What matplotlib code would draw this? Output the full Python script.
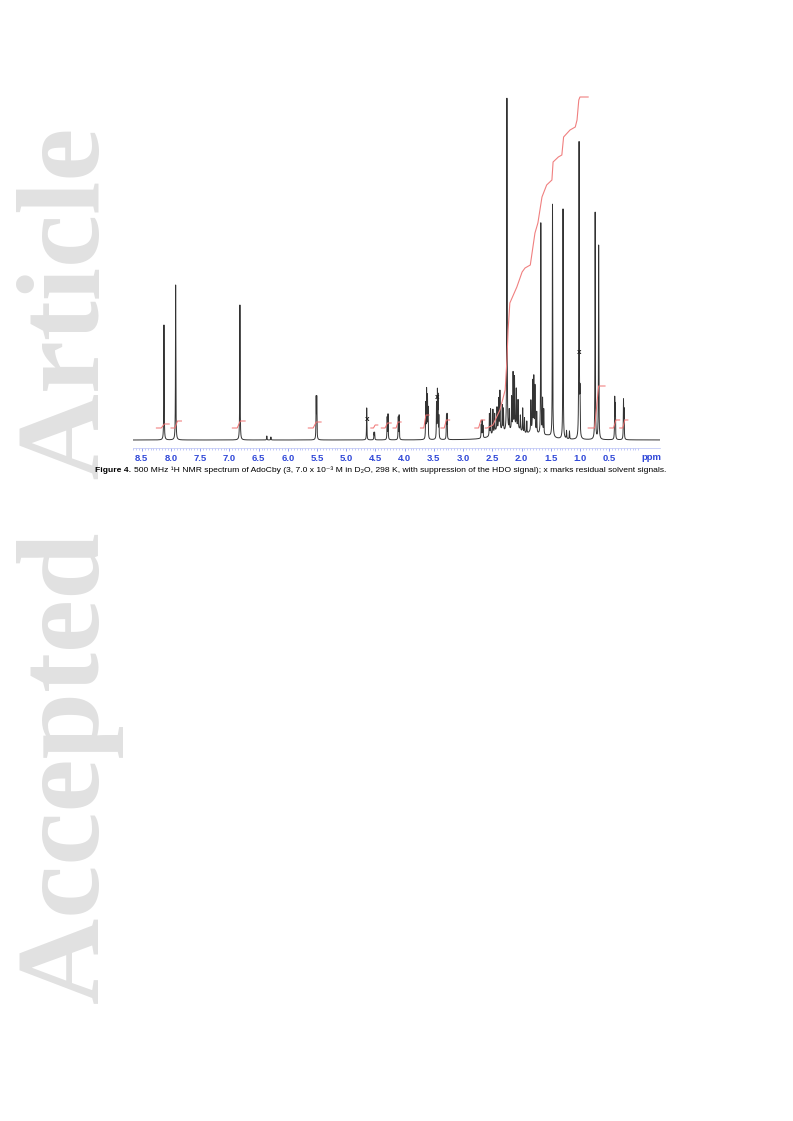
import numpy as np
import matplotlib
matplotlib.use("Agg")
import matplotlib.pyplot as plt
import matplotlib.transforms as mtransforms

# peak list: position (ppm), height (px above baseline)
peak_ppm = [8.12, 7.92, 6.82, 5.515, 5.505, 6.36, 6.29,
            4.65, 4.525, 4.515, 4.30, 4.285, 4.11, 4.095,
            3.64, 3.625, 3.61, 3.60, 3.455, 3.44, 3.43, 3.415, 3.285, 3.275,
            2.69, 2.675, 2.66,
            2.55, 2.53, 2.49, 2.46, 2.42, 2.39, 2.37, 2.33, 2.31, 2.25,
            2.21, 2.17, 2.145, 2.12, 2.09, 2.06, 2.02, 1.98, 1.95, 1.91,
            1.84, 1.81, 1.79, 1.77, 1.74, 1.67, 1.64, 1.62,
            1.47, 1.29, 1.23, 1.18, 1.015, 1.02, 1.00,
            0.74, 0.68, 0.405, 0.395, 0.255, 0.245]
peak_height = [115, 155, 135, 40, 40, 4, 3,
               32, 7, 7, 22, 25, 22, 24,
               35, 48, 40, 28, 35, 45, 40, 22, 22, 24,
               13, 17, 12,
               22, 26, 24, 18, 22, 30, 38, 25, 22, 334,
               20, 32, 55, 50, 38, 28, 15, 24, 15, 12,
               30, 48, 52, 44, 20, 212, 35, 25,
               233, 230, 8, 8, 276, 60, 40,
               227, 194, 40, 33, 38, 28]
# broad underlying humps in the aliphatic region
hump_ppm = [2.40, 2.10, 1.80, 1.55]
hump_height = [9, 11, 8, 3]
hump_width = [0.10, 0.12, 0.08, 0.10]

# integral trace over the aliphatic region (ppm, px above baseline)
int_ppm = [2.62, 2.59, 2.49, 2.37, 2.28, 2.25, 2.23, 2.20, 2.08, 1.99, 1.94,
           1.85, 1.77, 1.72, 1.65, 1.57, 1.48, 1.46, 1.37, 1.31, 1.28, 1.17,
           1.08, 1.05, 1.02, 1.00, 0.86]
int_level = [12, 12, 15, 30, 50, 80, 110, 137, 153, 168, 172,
             175, 207, 217, 243, 255, 260, 278, 283, 285, 303, 310,
             313, 320, 340, 343, 343]

# short integral steps: start ppm, end ppm, rise (px)
step_start = [8.25, 8.00, 6.95, 5.65, 4.58, 4.40, 4.20, 3.73, 3.38, 2.80, 0.86, 0.49, 0.32]
step_end = [8.03, 7.82, 6.73, 5.43, 4.46, 4.23, 4.06, 3.58, 3.23, 2.63, 0.57, 0.32, 0.18]
step_rise = [4, 7, 7, 6, 3, 5, 6, 13, 8, 8, 42, 8, 8]

# residual solvent marks (ppm, px above baseline)
mark_ppm = [4.65, 3.44, 1.01]
mark_level = [21, 43, 88]

tick_values = [8.5, 8.0, 7.5, 7.0, 6.5, 6.0, 5.5, 5.0, 4.5, 4.0, 3.5, 3.0,
               2.5, 2.0, 1.5, 1.0, 0.5]

W, H = 793, 1121
fig = plt.figure(figsize=(W / 100, H / 100), dpi=100)

# watermark
fig.text(71 / W, 1 - 566 / H, "Accepted  Article", rotation=90,
         ha="center", va="center", fontsize=86, fontweight="bold",
         family="Liberation Serif", color="#e1e1e1")

ax = fig.add_axes([133 / W, 1 - 448 / H, 527 / W, 353 / H])
ax.set_facecolor("none")

x = np.linspace(8.65, -0.37, 40000)
gam = 0.0035
y = np.zeros_like(x)
for p, h in zip(peak_ppm, peak_height):
    y += h * gam ** 2 / ((x - p) ** 2 + gam ** 2)
for p, h, w in zip(hump_ppm, hump_height, hump_width):
    y += h * w ** 2 / ((x - p) ** 2 + w ** 2)
ax.plot(x, y, color="#333333", lw=0.7)

ax.plot(int_ppm, int_level, color="#f08080", lw=0.8)
base = 12
for s, e, r in zip(step_start, step_end, step_rise):
    m = (s + e) / 2
    d = (s - e) * 0.12
    ax.plot([s, m + d, m - d, e], [base, base, base + r, base + r],
            color="#f07070", lw=0.7)

for p, lv in zip(mark_ppm, mark_level):
    ax.text(p, lv, "x", ha="center", va="center", fontsize=5,
            color="#222222", fontweight="bold")

ax.set_xlim(8.65, -0.37)
ax.set_ylim(-8, 345)
for s in ["top", "right", "left"]:
    ax.spines[s].set_visible(False)
ax.spines["bottom"].set_color("#b8c0f4")
ax.spines["bottom"].set_linewidth(0.5)
ax.set_yticks([])
ax.set_xticks(tick_values)
ax.set_xticklabels([f"{v:.1f}" for v in tick_values])
ax.set_xticks(np.arange(0.0, 8.66, 0.05), minor=True)
ax.tick_params(axis="x", which="major", length=2.5, width=0.6,
               color="#7f8ff0", pad=1.5, labelsize=6.8,
               labelcolor="#3048d8")
ax.tick_params(axis="x", which="minor", length=1.3, width=0.5,
               color="#a8b4f4")
for lab in ax.get_xticklabels():
    lab.set_fontweight("bold")
    lab.set_family("Liberation Sans")
trans = mtransforms.blended_transform_factory(ax.transData, ax.transAxes)
ax.text(-0.23, -0.013, "ppm", transform=trans, ha="center", va="top",
        fontsize=6.8, fontweight="bold", color="#3048d8",
        family="Liberation Sans")

fam = ["Liberation Sans", "DejaVu Sans"]
t1 = fig.text(95 / W, 1 - 471 / H, "Figure 4.", fontsize=6.08,
              fontweight="bold", family=fam, va="center", ha="left")
ax.annotate("500 MHz \u00b9H NMR spectrum of AdoCby (3, 7.0 x 10\u207b\u00b3 M in D\u2082O, "
            "298 K, with suppression of the HDO signal); x marks residual solvent signals.",
            xy=(1, 0), xycoords=t1, xytext=(2, 0), textcoords="offset points",
            va="bottom", ha="left",
            fontsize=6.08, family=fam, annotation_clip=False)

fig.savefig("out.png", dpi=100)
